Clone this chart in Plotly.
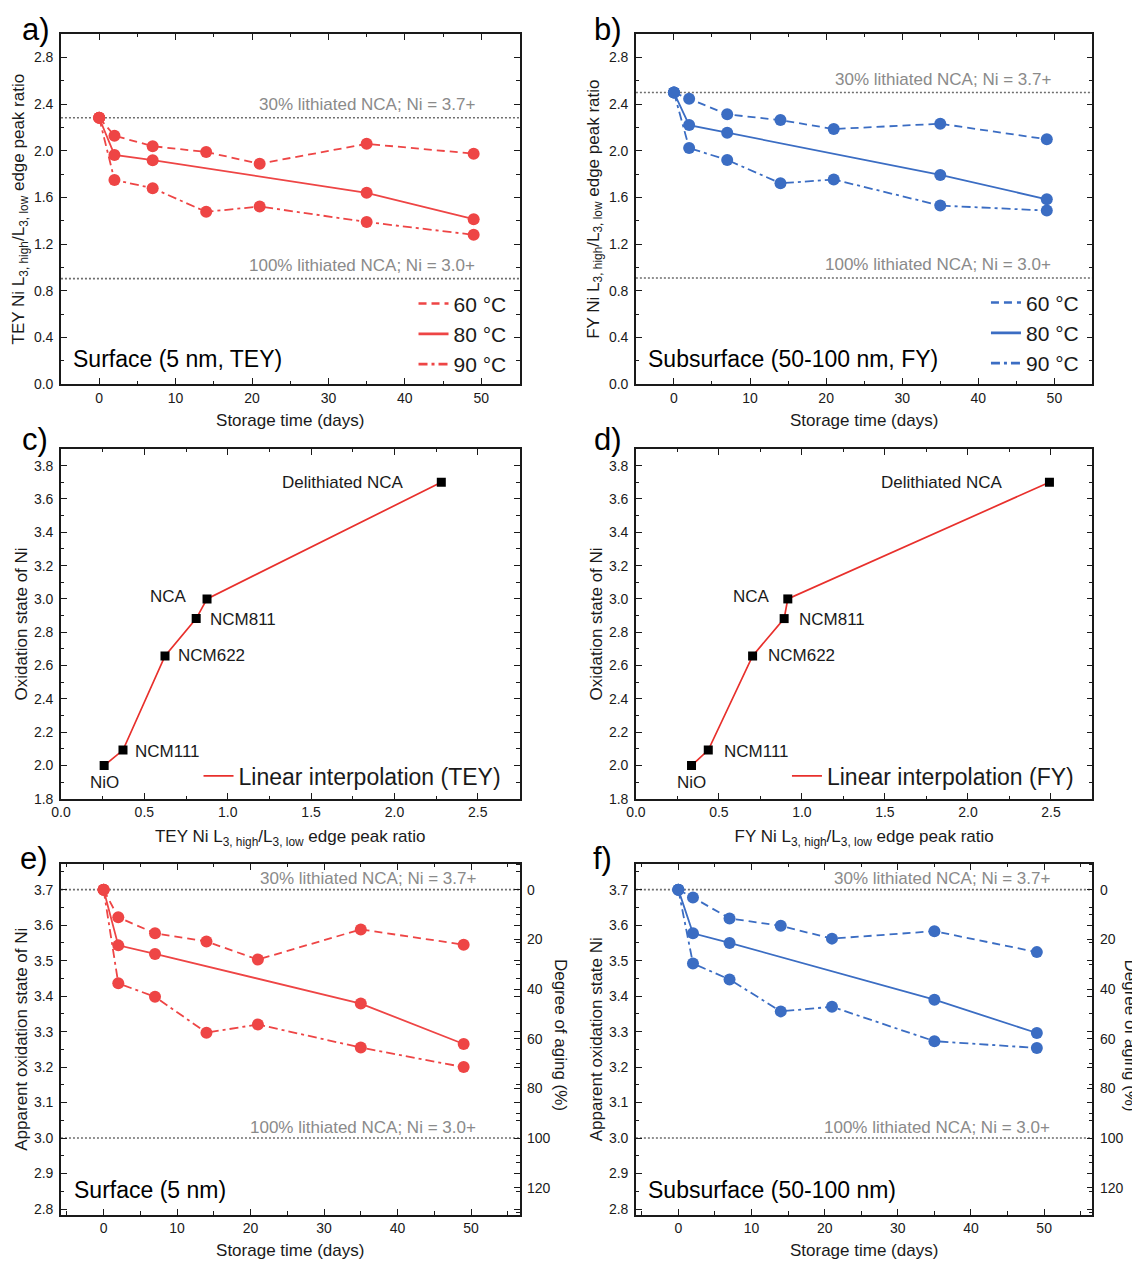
import plotly.graph_objects as go

W, H = 1140, 1262
FONT = "Liberation Sans, Arial, sans-serif"
RED = "#EE4545"
BLUE = "#3B6DC3"
LRED = "#E8302C"
INK = "#1a1a1a"
GREY_TXT = "#8a8a8a"

# ---------------- data ----------------
days = [0, 2, 7, 14, 21, 35, 49]
days_80 = [0, 2, 7, 35, 49]
temps = ["60 °C", "80 °C", "90 °C"]

tey_ratio_60 = [2.284, 2.13, 2.04, 1.99, 1.89, 2.06, 1.976]
tey_ratio_80 = [2.284, 1.965, 1.92, 1.64, 1.414]
tey_ratio_90 = [2.284, 1.75, 1.68, 1.477, 1.523, 1.39, 1.28]

fy_ratio_60 = [2.50, 2.447, 2.313, 2.264, 2.187, 2.233, 2.099]
fy_ratio_80 = [2.50, 2.221, 2.156, 1.794, 1.585]
fy_ratio_90 = [2.50, 2.024, 1.922, 1.722, 1.754, 1.531, 1.488]

ref_materials = ["NiO", "NCM111", "NCM622", "NCM811", "NCA", "Delithiated NCA"]
ref_ox_state = [2.0, 2.093, 2.658, 2.882, 3.0, 3.70]
ref_tey_ratio = [0.259, 0.372, 0.624, 0.811, 0.876, 2.281]
ref_fy_ratio = [0.335, 0.436, 0.703, 0.893, 0.915, 2.491]

surf_ox_60 = [3.70, 3.622, 3.577, 3.554, 3.503, 3.588, 3.545]
surf_ox_80 = [3.70, 3.543, 3.519, 3.379, 3.265]
surf_ox_90 = [3.70, 3.436, 3.398, 3.297, 3.320, 3.255, 3.20]

sub_ox_60 = [3.70, 3.678, 3.619, 3.598, 3.562, 3.583, 3.524]
sub_ox_80 = [3.70, 3.577, 3.550, 3.390, 3.296]
sub_ox_90 = [3.70, 3.492, 3.447, 3.357, 3.370, 3.273, 3.254]

tey_ref_levels = [2.284, 0.904]
fy_ref_levels = [2.50, 0.91]
ox_ref_levels = [3.7, 3.0]
ref_level_labels = ["30% lithiated NCA; Ni = 3.7+", "100% lithiated NCA; Ni = 3.0+"]

aging_ticks = [0, 20, 40, 60, 80, 100, 120]

# ---------------- helpers (screen px -> paper fraction) ----------------
SX_K, SX_C = 0.9922, 17.0
SY_K, SY_C = 0.9958, 6.4

def fx(x):
    return (x - SX_C) / SX_K

def fy(y):
    return (y - SY_C) / SY_K

def px(x):
    return fx(x) / W

def py(y):
    return 1 - fy(y) / H

def dom_x(a, b):
    return [px(a), px(b)]

def dom_y(top, bottom):
    return [py(bottom), py(top)]

COL1 = dom_x(60, 519)
COL2 = dom_x(635.5, 1092.5)
ROW1 = dom_y(32.7, 383.3)
ROW2 = dom_y(448.3, 799)
ROW3 = dom_y(864, 1215.7)

def axis(domain, rng, dtick, minor_dtick, tick0=0, anchor=None, title=None,
         standoff=6, fmt=None, mirror="ticks", label_gap=0):
    d = dict(
        domain=domain, range=rng, dtick=dtick, tick0=tick0,
        showline=True, linecolor=INK, linewidth=1.5, mirror=mirror,
        ticks="inside", ticklen=6, tickwidth=1.3, tickcolor=INK,
        ticklabelstandoff=label_gap,
        showgrid=False, zeroline=False,
        tickfont=dict(size=14, color=INK, family=FONT),
        minor=dict(ticks="inside", ticklen=3.5, tickwidth=1.2, tickcolor=INK,
                   dtick=minor_dtick, tick0=tick0, showgrid=False),
        anchor=anchor,
    )
    if fmt:
        d["tickformat"] = fmt
    if title:
        d["title"] = dict(text=title, font=dict(size=17, color=INK, family=FONT),
                          standoff=standoff)
    return d

fig = go.Figure()

DASHES = ["8px,5px", "solid", "9px,4px,3px,4px"]

def add_series(xs_list, ys_list, color, xa, ya):
    for xs, ys, dash in zip(xs_list, ys_list, DASHES):
        fig.add_trace(go.Scatter(
            x=xs, y=ys, mode="lines+markers", xaxis=xa, yaxis=ya,
            line=dict(color=color, width=1.8, dash=dash),
            marker=dict(color=color, size=12, symbol="circle"),
            showlegend=False, hoverinfo="x+y"))

def add_legend_entries(color, legend, xa, ya):
    for name, dash in zip(temps, DASHES):
        fig.add_trace(go.Scatter(
            x=[None], y=[None], mode="lines", name=name, xaxis=xa, yaxis=ya,
            line=dict(color=color, width=2.6, dash=dash), legend=legend))

# panel a
add_series([days, days_80, days], [tey_ratio_60, tey_ratio_80, tey_ratio_90], RED, "x", "y")
add_legend_entries(RED, "legend", "x", "y")
# panel b
add_series([days, days_80, days], [fy_ratio_60, fy_ratio_80, fy_ratio_90], BLUE, "x2", "y2")
add_legend_entries(BLUE, "legend2", "x2", "y2")

# panels c, d
for xs, xa, ya, lname, lab in [(ref_tey_ratio, "x3", "y3", "legend3", "Linear interpolation (TEY)"),
                               (ref_fy_ratio, "x4", "y4", "legend4", "Linear interpolation (FY)")]:
    fig.add_trace(go.Scatter(x=xs, y=ref_ox_state, mode="lines", xaxis=xa, yaxis=ya,
                             line=dict(color=LRED, width=1.7), name=lab, legend=lname))
    fig.add_trace(go.Scatter(x=xs, y=ref_ox_state, mode="markers", xaxis=xa, yaxis=ya,
                             marker=dict(color="black", size=9, symbol="square"),
                             showlegend=False, hovertext=ref_materials))

# panels e, f
add_series([days, days_80, days], [surf_ox_60, surf_ox_80, surf_ox_90], RED, "x5", "y5")
add_series([days, days_80, days], [sub_ox_60, sub_ox_80, sub_ox_90], BLUE, "x6", "y6")

# ---------------- axes ----------------
tey_title = "TEY Ni L<sub>3, high</sub>/L<sub>3, low</sub> edge peak ratio"
fy_title = "FY Ni L<sub>3, high</sub>/L<sub>3, low</sub> edge peak ratio"
time_title = "Storage time (days)"

layout = dict(
    width=W, height=H, margin=dict(l=0, r=0, t=0, b=0),
    paper_bgcolor="white", plot_bgcolor="white",
    font=dict(family=FONT, color=INK),
    xaxis=axis(COL1, [-5, 55], 10, 5, anchor="y", title=time_title, standoff=9),
    yaxis=axis(ROW1, [0, 3.0], 0.4, 0.2, anchor="x", title=tey_title, standoff=5, fmt=".1f", label_gap=3),
    xaxis2=axis(COL2, [-5, 55], 10, 5, anchor="y2", title=time_title, standoff=9),
    yaxis2=axis(ROW1, [0, 3.0], 0.4, 0.2, anchor="x2", title=fy_title, standoff=5, fmt=".1f", label_gap=3),
    xaxis3=axis(COL1, [0, 2.75], 0.5, 0.25, anchor="y3", title=tey_title, standoff=11, fmt=".1f"),
    yaxis3=axis(ROW2, [1.8, 3.9], 0.2, 0.1, tick0=1.8, anchor="x3",
                title="Oxidation state of Ni", standoff=2, fmt=".1f", label_gap=3),
    xaxis4=axis(COL2, [0, 2.75], 0.5, 0.25, anchor="y4", title=fy_title, standoff=11, fmt=".1f"),
    yaxis4=axis(ROW2, [1.8, 3.9], 0.2, 0.1, tick0=1.8, anchor="x4",
                title="Oxidation state of Ni", standoff=2, fmt=".1f", label_gap=3),
    xaxis5=axis(COL1, [-5.8, 56.6], 10, 5, anchor="y5", title=time_title, standoff=9),
    yaxis5=axis(ROW3, [2.784, 3.773], 0.1, 0.05, tick0=2.8, anchor="x5",
                title="Apparent oxidation state of Ni", standoff=2, fmt=".1f", label_gap=3),
    xaxis6=axis(COL2, [-5.8, 56.6], 10, 5, anchor="y6", title=time_title, standoff=9),
    yaxis6=axis(ROW3, [2.784, 3.773], 0.1, 0.05, tick0=2.8, anchor="x6",
                title="Apparent oxidation state Ni", standoff=2, fmt=".1f", label_gap=3),
)
for name, ov, xa in [("yaxis7", "y5", "x5"), ("yaxis8", "y6", "x6")]:
    a = axis(ROW3, [130.86, -10.43], 20, 10, anchor=xa, mirror=False, label_gap=3)
    a.update(overlaying=ov, side="right", tickvals=aging_ticks)
    layout[name] = a
fig.update_layout(**layout)

# invisible traces to activate the right-hand aging axes
fig.add_trace(go.Scatter(x=[None], y=[None], xaxis="x5", yaxis="y7", showlegend=False))
fig.add_trace(go.Scatter(x=[None], y=[None], xaxis="x6", yaxis="y8", showlegend=False))

# ---------------- legends ----------------
def legend_box(x_right, y_mid, size):
    return dict(x=px(x_right), y=py(y_mid), xanchor="right", yanchor="middle",
                font=dict(size=size, family=FONT, color=INK),
                bgcolor="rgba(0,0,0,0)", borderwidth=0, tracegroupgap=0,
                itemwidth=30)

fig.update_layout(
    legend=legend_box(511, 333, 21),
    legend2=legend_box(1084, 332, 21),
    legend3=legend_box(506, 776, 23),
    legend4=legend_box(1079, 776, 23),
)

# ---------------- reference lines + labels ----------------
shapes = []
ann = []
for xa, ya, levels, xr in [("x", "y", tey_ref_levels, 49.4), ("x2", "y2", fy_ref_levels, 49.8),
                           ("x5", "y5", ox_ref_levels, 51.0), ("x6", "y6", ox_ref_levels, 51.1)]:
    for lev, lab in zip(levels, ref_level_labels):
        shapes.append(dict(type="line", xref=xa + " domain", x0=0, x1=1, yref=ya, y0=lev, y1=lev,
                           line=dict(color="#6e6e6e", width=1.6, dash="2px,2px"), layer="below"))
        ann.append(dict(x=xr, y=lev, xref=xa, yref=ya, text=lab, showarrow=False,
                        xanchor="right", yanchor="middle", yshift=13 if xa in ("x", "x2") else 11,
                        font=dict(size=17, color=GREY_TXT, family=FONT)))

# reference material labels (c, d)
label_style_c = {"NiO": ("center", 0, -17), "NCM111": ("left", 10, -1), "NCM622": ("left", 11, 0),
                 "NCM811": ("left", 12, -1), "NCA": ("right", -18, 2), "Delithiated NCA": ("right", -35, 0)}
label_style_d = {"NiO": ("center", 0, -17), "NCM111": ("left", 14, -1), "NCM622": ("left", 13, 0),
                 "NCM811": ("left", 13, -1), "NCA": ("right", -16, 2), "Delithiated NCA": ("right", -44, 0)}
for xs, xa, ya, style in [(ref_tey_ratio, "x3", "y3", label_style_c), (ref_fy_ratio, "x4", "y4", label_style_d)]:
    for name, xv, yv in zip(ref_materials, xs, ref_ox_state):
        anc, xs_, ys_ = style[name]
        ann.append(dict(x=xv, y=yv, xref=xa, yref=ya, text=name, showarrow=False,
                        xanchor=anc, yanchor="middle", xshift=xs_, yshift=ys_,
                        font=dict(size=17, color=INK, family=FONT)))

# panel letters
for letter, x, y in [("a)", 19, 28), ("b)", 592, 28), ("c)", 19, 439), ("d)", 592, 439),
                     ("e)", 17, 859), ("f)", 591, 859)]:
    ann.append(dict(x=px(x), y=py(y), xref="paper", yref="paper", text=letter, showarrow=False,
                    xanchor="left", yanchor="middle", font=dict(size=31, color="black", family=FONT)))

# in-panel descriptions
for txt, x, y, size in [("Surface (5 nm, TEY)", 70, 357.7, 23), ("Subsurface (50-100 nm, FY)", 646, 357.7, 23),
                        ("Surface (5 nm)", 71, 1191, 23), ("Subsurface (50-100 nm)", 646, 1191, 23)]:
    ann.append(dict(x=px(x), y=py(y), xref="paper", yref="paper", text=txt, showarrow=False,
                    xanchor="left", yanchor="middle", font=dict(size=size, color="black", family=FONT)))

# right-axis titles
for x in [560, 1131]:
    ann.append(dict(x=px(x), y=py(1036), xref="paper", yref="paper", text="Degree of aging (%)",
                    showarrow=False, textangle=90, xanchor="center", yanchor="middle",
                    font=dict(size=17, color=INK, family=FONT)))

fig.update_layout(shapes=shapes, annotations=ann)
fig.write_html("out.html")
